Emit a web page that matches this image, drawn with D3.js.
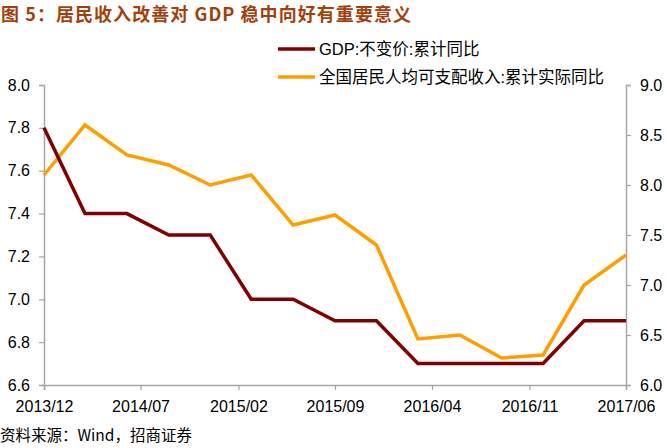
<!DOCTYPE html>
<html><head><meta charset="utf-8">
<script src="https://cdn.jsdelivr.net/npm/d3@7"></script>
<style>body{margin:0;background:#fff}svg{display:block}</style>
</head><body>
<svg id="c" width="667" height="448"></svg>
<script>
const dates = ["2013-12","2014-03","2014-06","2014-09","2014-12","2015-03","2015-06","2015-09","2015-12","2016-03","2016-06","2016-09","2016-12","2017-03","2017-06"];
const gdp = [7.8,7.4,7.4,7.3,7.3,7.0,7.0,6.9,6.9,6.7,6.7,6.7,6.7,6.9,6.9];
const income = [8.1,8.6,8.3,8.2,8.0,8.1,7.6,7.7,7.4,6.46,6.5,6.27,6.3,7.0,7.3];
const xTickLabels = ["2013/12","2014/07","2015/02","2015/09","2016/04","2016/11","2017/06"];
const leftTicks = [6.6,6.8,7.0,7.2,7.4,7.6,7.8,8.0];
const rightTicks = [6.0,6.5,7.0,7.5,8.0,8.5,9.0];
const seriesNames = ["GDP:不变价:累计同比","全国居民人均可支配收入:累计实际同比"];
const title = "图 5：居民收入改善对 GDP 稳中向好有重要意义";
const source = "资料来源：Wind，招商证券";

const parse = d3.timeParse("%Y-%m");
const svg = d3.select("#c");
const L = 44, R = 626, T = 85, B = 385;
const x = d3.scaleTime().domain([parse("2013-12"), parse("2017-06")]).range([L, R]);
const yL = d3.scaleLinear().domain([6.6, 8.0]).range([B, T]);
const yR = d3.scaleLinear().domain([6.0, 9.0]).range([B, T]);
const axisColor = "#a6a6a6";
const font = "Arial, 'Liberation Sans', sans-serif";

// axes
const gL = svg.append("g").attr("transform", `translate(${L},0)`)
  .call(d3.axisLeft(yL).tickValues(leftTicks).tickFormat(d3.format(".1f")).tickSize(5).tickPadding(9));
const gR = svg.append("g").attr("transform", `translate(${R},0)`)
  .call(d3.axisRight(yR).tickValues(rightTicks).tickFormat(d3.format(".1f")).tickSize(5).tickPadding(9));
const gX = svg.append("g").attr("transform", `translate(0,${B})`)
  .call(d3.axisBottom(x).tickValues(xTickLabels.map(s => d3.timeParse("%Y/%m")(s))).tickFormat(d3.timeFormat("%Y/%m")).tickSize(5).tickPadding(8));
[gL, gR, gX].forEach(g => {
  g.selectAll(".domain").attr("stroke", axisColor).attr("stroke-width", 1.5);
  g.selectAll(".tick line").attr("stroke", axisColor).attr("stroke-width", 1.2);
  g.selectAll("text").attr("fill", "#000").style("font-family", font).style("font-size", "16px");
});
gX.selectAll("text").attr("dy", "0.85em");

// lines
const lineL = d3.line().x((d, i) => x(parse(dates[i]))).y(d => yL(d));
const lineR = d3.line().x((d, i) => x(parse(dates[i]))).y(d => yR(d));
svg.append("path").datum(income).attr("d", lineR).attr("fill", "none")
  .attr("stroke", "#FF9E00").attr("stroke-width", 3.5).attr("stroke-linejoin", "miter");
svg.append("path").datum(gdp).attr("d", lineL).attr("fill", "none")
  .attr("stroke", "#800000").attr("stroke-width", 3.5).attr("stroke-linejoin", "miter");

// legend
const legColors = ["#800000", "#FF9E00"];
seriesNames.forEach((n, i) => {
  const yy = 49 + i * 28;
  svg.append("line").attr("x1", 278).attr("x2", 315).attr("y1", yy).attr("y2", yy)
    .attr("stroke", legColors[i]).attr("stroke-width", 3.5);
  svg.append("text").attr("x", 319).attr("y", yy).attr("dy", "0.36em")
    .style("font-family", "Arial, 'Noto Sans CJK SC', sans-serif").style("font-size", "16.5px").text(n);
});

// title
svg.append("text").attr("x", 1).attr("y", 21).attr("fill", "#A3410C")
  .attr("textLength", 410).attr("lengthAdjust", "spacing")
  .style("font-family", "'Noto Sans CJK SC', sans-serif").style("font-weight", "bold").style("font-size", "18px")
  .text(title);
// source
svg.append("text").attr("x", 0).attr("y", 441).attr("fill", "#000")
  .style("font-family", "'Noto Sans CJK SC', sans-serif").style("font-size", "15.5px")
  .text(source);
</script>
</body></html>
